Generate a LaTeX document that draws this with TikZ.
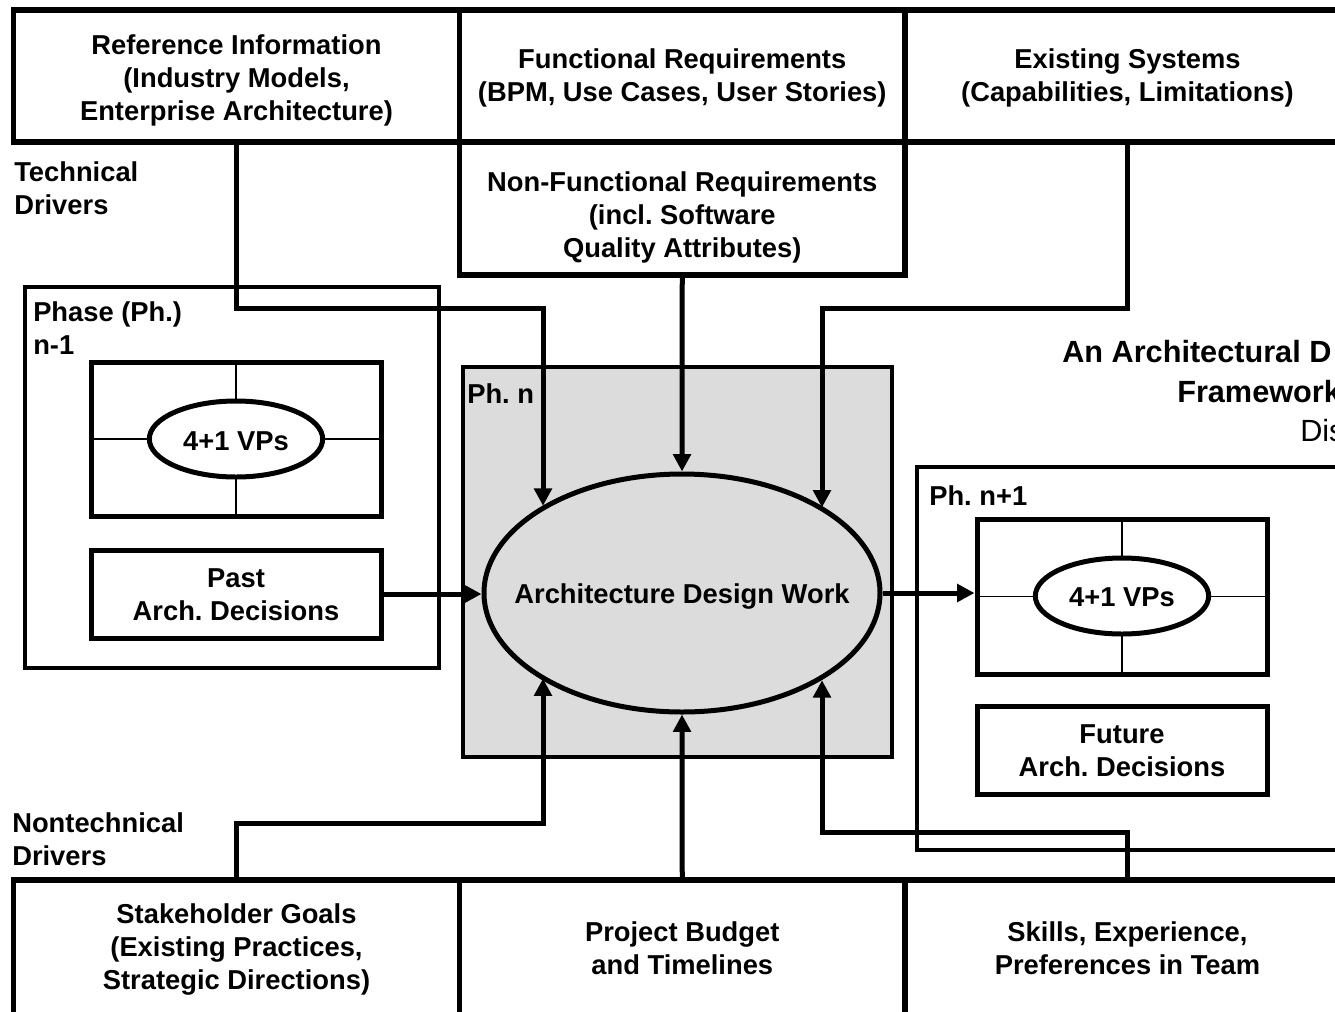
\documentclass[tikz,border=0pt]{standalone}
\usepackage{fontspec}
\setmainfont{Liberation Sans}
\usetikzlibrary{shapes.geometric,arrows.meta}
\definecolor{lgray}{RGB}{220,220,220}
\frenchspacing
% box node (name) spanning x1,y1,x2,y2 in px; text node (name t) shifted down by dy px
\newcommand{\pxbox}[8][]{%
  \pgfmathsetmacro{\pxw}{(#5-#3)*0.75}%
  \pgfmathsetmacro{\pxh}{(#6-#4)*0.75}%
  \pgfmathsetmacro{\pxcx}{(#3+#5)/2}%
  \pgfmathsetmacro{\pxcy}{(#4+#6)/2}%
  \pgfmathsetmacro{\pxty}{(#4+#6)/2+#8}%
  \node[#1, minimum width=\pxw pt, minimum height=\pxh pt] (#2) at (\pxcx,\pxcy) {};
  \node[boxtext] (#2t) at (\pxcx,\pxty) {#7};}
\begin{document}
\begin{tikzpicture}[x=0.75pt,y=-0.75pt,
  font=\fontsize{20.5}{24.75}\selectfont\bfseries,
  bigbox/.style={draw, line width=4.25pt, inner sep=0},
  vpbox/.style={draw, line width=3.75pt, inner sep=0},
  phasebox/.style={draw, line width=2.5pt, inner sep=0},
  boxtext/.style={inner sep=0, align=center},
  lab/.style={inner sep=0, anchor=north west, align=left},
  titlelab/.style={inner sep=0, anchor=base west},
  arr/.style={line width=3.75pt, -{Triangle[length=13pt,width=13pt]}},
  crossline/.style={line width=1pt},
  vpell/.style={ellipse, draw, line width=3.75pt, fill=white, inner sep=0,
    minimum width=130pt, minimum height=57pt}]
\useasboundingbox (0,0) rectangle (1335,1011);

% phase containers
\pxbox[phasebox]{phprev}{25}{287}{439}{668}{}{0}
\pxbox[phasebox, fill=lgray]{phn}{463}{367}{892}{757}{}{0}
\pxbox[phasebox]{phnext}{917}{467}{1360}{850}{}{0}

% top row
\pxbox[bigbox]{ref}{13.5}{10}{459.5}{142}{Reference Information\\(Industry Models,\\Enterprise Architecture)}{4}
\pxbox[bigbox]{func}{459.5}{10}{905}{142}{Functional Requirements\\(BPM, Use Cases, User Stories)}{2}
\pxbox[bigbox]{exist}{905}{10}{1350}{142}{Existing Systems\\(Capabilities, Limitations)}{2}
\pxbox[bigbox]{nfr}{459.5}{142}{905}{275}{Non-Functional Requirements\\(incl. Software\\Quality Attributes)}{9}

% bottom row
\pxbox[bigbox]{stake}{13.5}{880}{459.5}{1016}{Stakeholder Goals\\(Existing Practices,\\Strategic Directions)}{1}
\pxbox[bigbox]{budget}{459.5}{880}{905}{1016}{Project Budget\\and Timelines}{0}
\pxbox[bigbox]{skills}{905}{880}{1350}{1016}{Skills, Experience,\\Preferences in Team}{0}

% labels
\node[lab] (tech) at (14,161) {Technical\\Drivers};
\node[lab] (nontech) at (12,812) {Nontechnical\\Drivers};
\node[lab] (phprevlab) at (33,301) {Phase (Ph.)\\n-1};
\node[lab] (phnlab) at (467,383) {Ph. n};
\node[lab] (phnextlab) at (929,485) {Ph. n+1};

% title (clipped at page edge, as in the reference)
\node[titlelab, font=\fontsize{23}{28}\selectfont\bfseries] (title1) at (1062,362) {An Architectural D};
\node[titlelab, font=\fontsize{23}{28}\selectfont\bfseries] (title2) at (1177,402) {Framework};
\node[titlelab, font=\fontsize{23}{28}\selectfont\mdseries] (title3) at (1300,441) {Dis};

% phase n-1 contents
\pxbox[vpbox]{vpl}{91}{362}{381}{516}{}{0}
\draw[crossline] (vpl.north) -- (vpl.south);
\draw[crossline] (vpl.west) -- (vpl.east);
\node[vpell] (vpel) at (236,439) {};
\node[boxtext] (vpelt) at (236,441) {4+1 VPs};
\pxbox[vpbox]{past}{91}{550}{381}{638}{Past\\Arch. Decisions}{1}

% phase n+1 contents
\pxbox[vpbox]{vpr}{977}{519}{1267}{674}{}{0}
\draw[crossline] (vpr.north) -- (vpr.south);
\draw[crossline] (vpr.west) -- (vpr.east);
\node[vpell] (vper) at (1122,596) {};
\node[boxtext] (vpert) at (1122,597) {4+1 VPs};
\pxbox[vpbox]{fut}{977}{706}{1267}{794}{Future\\Arch. Decisions}{1}

% central ellipse
\node[ellipse, draw, line width=3.75pt, fill=lgray, inner sep=0,
  minimum width=297pt, minimum height=178.5pt] (adw) at (682,593) {};
\node[boxtext] (adwt) at (682,596) {Architecture Design Work};

% connectors
\coordinate (ja) at (543,308);
\coordinate (jb) at (822,308);
\coordinate (jc) at (543,823);
\coordinate (jd) at (822,832);
\draw[arr] (ref.south) |- (ja) -- (ja |- adw.148.5);
\draw[arr] (nfr.south) -- (adw.north);
\draw[arr] (exist.south) |- (jb) -- (jb |- adw.31.5);
\draw[arr] (stake.north) |- (jc) -- (jc |- adw.211.5);
\draw[arr] (budget.north) -- (adw.south);
\draw[arr] (skills.north) |- (jd) -- (jd |- adw.328.5);
\draw[arr] (past.east) -- (past.east -| adw.west);
\draw[arr] (adw.east) -- (adw.east -| vpr.west);
\end{tikzpicture}
\end{document}
